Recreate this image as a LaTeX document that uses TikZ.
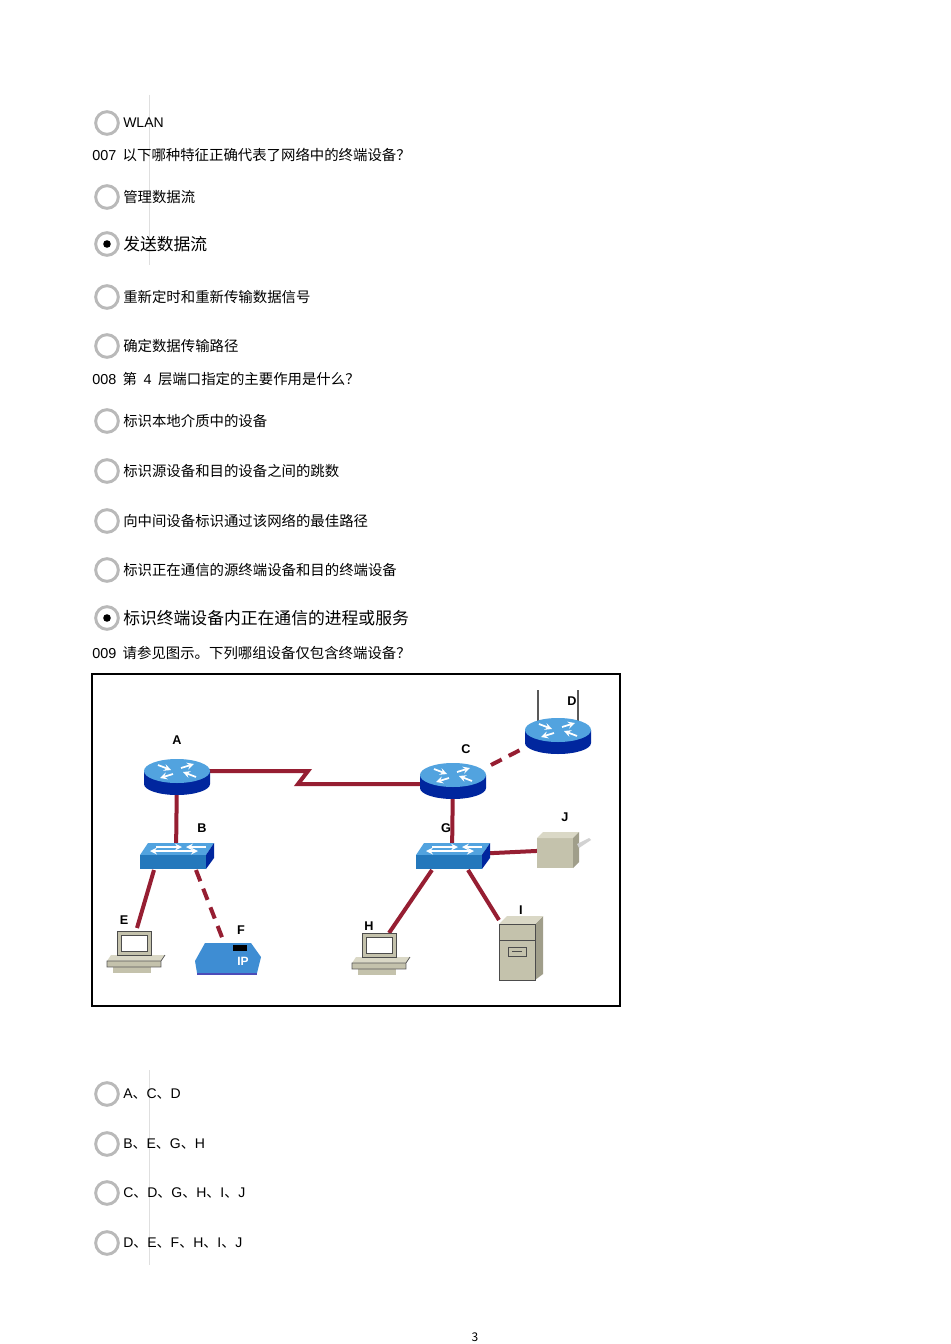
\documentclass[tikz,border=0pt]{standalone}
\usepackage{fontspec}
\usetikzlibrary{calc}
\setmainfont{Noto Sans CJK SC}
\newfontfamily\lat{Liberation Sans}
\newfontfamily\cjk{Noto Sans CJK SC}
\newcommand{\dn}{{\cjk 、}}
\definecolor{beigeA}{RGB}{196,194,172}
\definecolor{beigeB}{RGB}{160,158,138}
\definecolor{beigeC}{RGB}{218,216,198}
\begin{document}
\begin{tikzpicture}[x=0.75pt,y=-0.75pt,
  txt/.style={anchor=west,inner sep=0pt,font=\fontsize{10.8}{12}\selectfont},
  ltxt/.style={anchor=west,inner sep=0pt,font=\lat\fontsize{10.5}{12}\selectfont},
  big/.style={anchor=west,inner sep=0pt,font=\fontsize{12.6}{14}\selectfont},
  lbl/.style={inner sep=0pt,font=\lat\bfseries\fontsize{9.5}{11}\selectfont},
  radio/.style={circle,draw=gray!55,line width=2.2pt,minimum size=17pt,inner sep=0pt},
  link/.style={draw={rgb,255:red,150;green,30;blue,50},line width=3pt},
  dlink/.style={link,dash pattern=on 9pt off 6pt},
  wa/.style={white,line width=1.3pt,-stealth},
  router/.pic={
    \fill[blue!55!black!85!cyan] (-33,0) -- (-33,13) arc[start angle=180,end angle=0,x radius=33,y radius=11] -- (33,0) -- cycle;
    \fill[cyan!70!blue!70] (0,0) ellipse[x radius=33,y radius=12];
    \draw[wa] (-19,-6)--(-6,-1);
    \draw[wa] (19,6)--(6,1);
    \draw[wa] (-4,3)--(-17,7);
    \draw[wa] (4,-3)--(17,-7);
  },
  switch/.pic={
    \fill[cyan!70!blue!70] (-28,-12)--(38,-12)--(30,0)--(-36,0)--cycle;
    \fill[cyan!60!blue!90!black] (-36,0) rectangle (30,14);
    \fill[blue!55!black!85!cyan] (30,0)--(38,-12)--(38,3)--(30,14)--cycle;
    \draw[wa] (-20,-8)--(6,-8);
    \draw[wa] (30,-8)--(10,-8);
    \draw[wa] (-6,-4)--(22,-4);
    \draw[wa] (-2,-4)--(-26,-4);
  },
  pc/.pic={
    \fill[beigeC] (-28,8)--(26,8)--(30,2)--(-24,2)--cycle;
    \fill[beigeA] (-28,8) rectangle (26,14);
    \fill[beigeA] (-22,14) rectangle (16,20);
    \draw[gray!70!black,line width=0.6pt] (-28,8)--(26,8)--(30,2) (-28,8) rectangle (26,14);
    \fill[beigeA,draw=gray!60!black] (-18,-22) rectangle (16,2);
    \fill[white,draw=gray!60!black] (-14,-18) rectangle (12,-2);
  },
  phone/.pic={
    \fill[cyan!60!blue!80] (-28,16)--(32,16)--(36,0)--(26,-14)--(-20,-14)--(-30,4)--cycle;
    \fill[blue!60!black!70] (-28,16)--(32,16)--(32,18)--(-28,18)--cycle;
    \fill[black] (8,-12) rectangle (22,-6);
    \node[font=\lat\bfseries\fontsize{9}{9}\selectfont,text=white] at (18,4) {IP};
  },
  server/.pic={
    \fill[beigeA] (-18,-28) rectangle (18,28);
    \fill[beigeB] (18,-28)--(26,-36)--(26,22)--(18,28)--cycle;
    \fill[beigeC] (-18,-28)--(-10,-36)--(26,-36)--(18,-28)--cycle;
    \draw[gray!60!black,line width=0.5pt] (-18,-28) rectangle (18,28) (-18,-12)--(18,-12);
    \draw[gray!60!black,line width=0.5pt] (-9,-5) rectangle (9,4) (-5,-1)--(5,-1);
  },
  printer/.pic={
    \fill[beigeA] (-20,-12) rectangle (16,18);
    \fill[beigeC] (-20,-12)--(-14,-18)--(22,-18)--(16,-12)--cycle;
    \fill[beigeB] (16,-12)--(22,-18)--(22,12)--(16,18)--cycle;
    \fill[gray!35] (20,-6)--(32,-12)--(34,-10)--(22,-2)--cycle;
  }]
\useasboundingbox (0,0) rectangle (950,1344);
\fill[white] (0,0) rectangle (950,1344);
\draw[gray!25,line width=0.5pt] (149,95)--(149,265);
\draw[gray!25,line width=0.5pt] (149,1070)--(149,1265);
\foreach \y/\n in {123/r1,197/r2,244/r3,297/r4,346/r5,421/r6,471/r7,521/r8,570/r9,618/r10,1094/r11,1144/r12,1193/r13,1243/r14}
  \node[radio] (\n) at (107,\y) {};
\fill (r3) circle (3.8);
\fill (r10) circle (3.8);
\node[ltxt] (t1) at (123,123) {WLAN};
\node[txt] (q7) at (92,155) {{\lat 007}\ \ 以下哪种特征正确代表了网络中的终端设备？};
\node[txt] (t2) at (123,197) {管理数据流};
\node[big] (t3) at (123,244) {发送数据流};
\node[txt] (t4) at (123,297) {重新定时和重新传输数据信号};
\node[txt] (t5) at (123,346) {确定数据传输路径};
\node[txt] (q8) at (92,379) {{\lat 008}\ \ 第\ \ {\lat 4}\ \ 层端口指定的主要作用是什么？};
\node[txt] (t6) at (123,421) {标识本地介质中的设备};
\node[txt] (t7) at (123,471) {标识源设备和目的设备之间的跳数};
\node[txt] (t8) at (123,521) {向中间设备标识通过该网络的最佳路径};
\node[txt] (t9) at (123,570) {标识正在通信的源终端设备和目的终端设备};
\node[big] (t10) at (123,618) {标识终端设备内正在通信的进程或服务};
\node[txt] (q9) at (92,653) {{\lat 009}\ \ 请参见图示。下列哪组设备仅包含终端设备？};
\node[ltxt] (a1) at (123,1094) {A\dn C\dn D};
\node[ltxt] (a2) at (123,1144) {B\dn E\dn G\dn H};
\node[ltxt] (a3) at (123,1193) {C\dn D\dn G\dn H\dn I\dn J};
\node[ltxt] (a4) at (123,1243) {D\dn E\dn F\dn H\dn I\dn J};
\node[font=\fontsize{9}{10}\selectfont] (pg) at (475,1337) {3};
\draw[line width=2.2pt] (92,674) rectangle (620,1006);
\coordinate (A) at (177,771);
\coordinate (C) at (453,775);
\coordinate (D) at (558,730);
\coordinate (B) at (176,855);
\coordinate (G) at (452,855);
\coordinate (E) at (135,953);
\coordinate (F) at (225,957);
\coordinate (H) at (380,955);
\coordinate (I) at (517,952);
\coordinate (J) at (557,850);
\coordinate (z1) at (308,771);
\coordinate (z2) at (298,784);
\draw[link] (A) -- (z1) -- (z2) -- (C |- z2);
\draw[link] (A) -- (B);
\draw[link] (C) -- (G);
\draw[dlink] ($(C)+(38,-10)$) -- ($(D)+(-34,18)$);
\draw[link] ($(B)+(-22,15)$) -- ($(E)+(2,-25)$);
\draw[dlink] ($(B)+(20,15)$) -- ($(F)+(0,-12)$);
\draw[link] ($(G)+(-20,15)$) -- ($(H)+(9,-22)$);
\draw[link] ($(G)+(16,15)$) -- ($(I)+(-18,-32)$);
\draw[link] (G) -- (J);
\pic at (A) {router};
\pic at (C) {router};
\draw[gray!70!black,line width=1pt] (538,722)--(538,690) (578,722)--(578,690);
\pic at (D) {router};
\pic at (B) {switch};
\pic at (G) {switch};
\pic at (E) {pc};
\pic at (H) {pc};
\pic at (F) {phone};
\pic at (I) {server};
\pic at (J) {printer};
\node[lbl] at (177,740) {A};
\node[lbl] at (202,828) {B};
\node[lbl] at (466,749) {C};
\node[lbl] at (572,701) {D};
\node[lbl] at (124,920) {E};
\node[lbl] at (241,930) {F};
\node[lbl] at (446,828) {G};
\node[lbl] at (369,926) {H};
\node[lbl] at (521,910) {I};
\node[lbl] at (565,817) {J};
\end{tikzpicture}
\end{document}
